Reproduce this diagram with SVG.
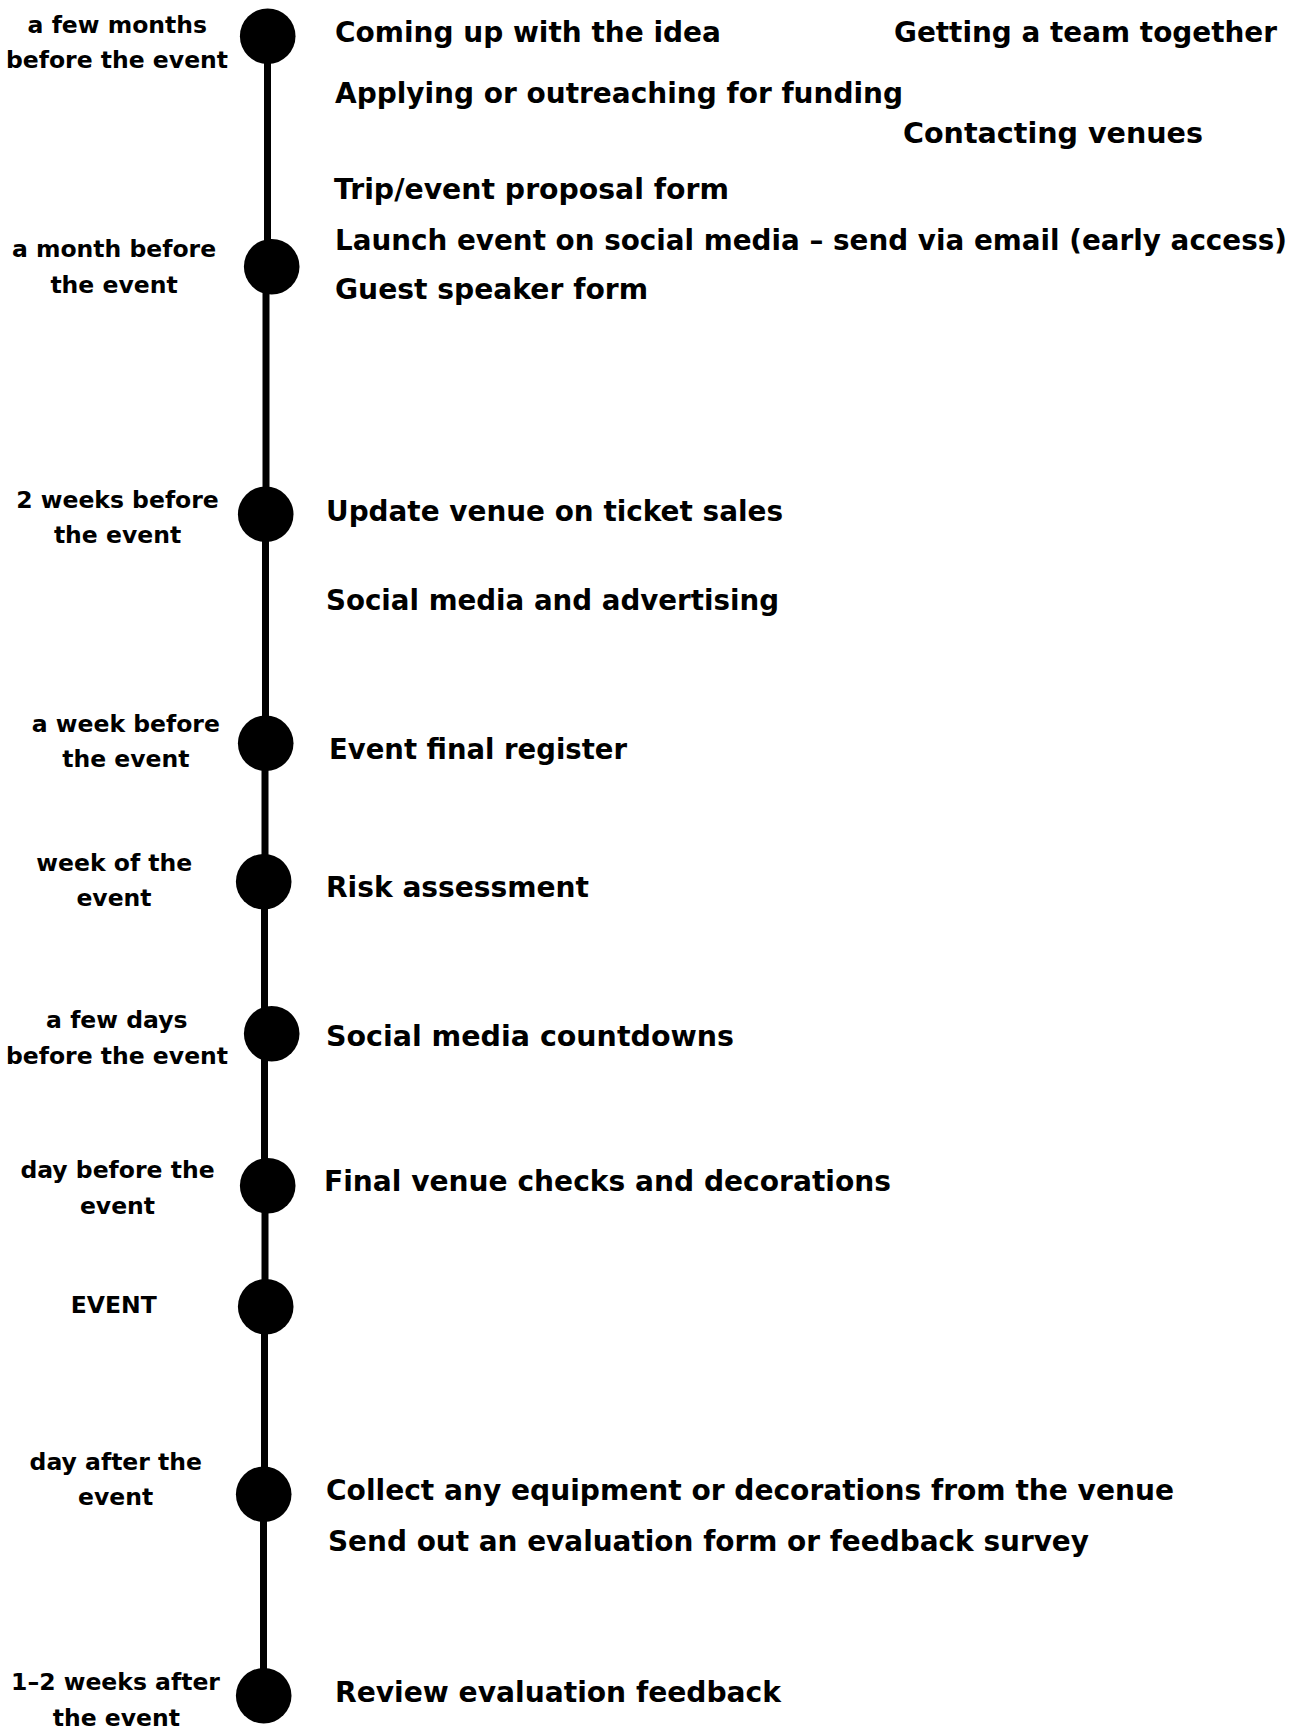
<svg xmlns="http://www.w3.org/2000/svg" width="1298" height="1726" viewBox="0 0 1298 1726">
<style>
.lbl{font-family:"DejaVu Sans","Liberation Sans",sans-serif;font-weight:bold;font-size:23.5px;fill:#000;text-anchor:middle}
.task{font-family:"DejaVu Sans","Liberation Sans",sans-serif;font-weight:bold;font-size:27.5px;fill:#000}
.dot{fill:#000}
.seg{stroke:#000;stroke-width:7;fill:none}
</style>
<rect width="1298" height="1726" fill="#fff"/>
<g id="connectors">
<line class="seg" x1="267.5" y1="36" x2="267.5" y2="267"/>
<line class="seg" x1="266" y1="267" x2="266" y2="514"/>
<line class="seg" x1="265.5" y1="514" x2="265.5" y2="743"/>
<line class="seg" x1="265" y1="743" x2="265" y2="882"/>
<line class="seg" x1="264.5" y1="882" x2="264.5" y2="1034"/>
<line class="seg" x1="264.5" y1="1034" x2="264.5" y2="1186"/>
<line class="seg" x1="265" y1="1186" x2="265" y2="1307"/>
<line class="seg" x1="264.5" y1="1307" x2="264.5" y2="1494"/>
<line class="seg" x1="263.5" y1="1494" x2="263.5" y2="1696"/>
</g>
<g id="m1">
<circle class="dot" cx="267.7" cy="36.2" r="27.8"/>
<text class="lbl" x="117.3" y="33.3">a few months</text>
<text class="lbl" x="117" y="68.3">before the event</text>
<text class="task" x="335" y="41.5" textLength="386" lengthAdjust="spacingAndGlyphs">Coming up with the idea</text>
<text class="task" x="894" y="41.5" textLength="383" lengthAdjust="spacingAndGlyphs">Getting a team together</text>
<text class="task" x="335" y="103" textLength="568" lengthAdjust="spacingAndGlyphs">Applying or outreaching for funding</text>
<text class="task" x="903" y="142.5" textLength="300" lengthAdjust="spacingAndGlyphs">Contacting venues</text>
</g>
<g id="m2">
<circle class="dot" cx="271.7" cy="266.7" r="27.8"/>
<text class="lbl" x="114" y="256.7">a month before</text>
<text class="lbl" x="114" y="292.7">the event</text>
<text class="task" x="334" y="198.5" textLength="395" lengthAdjust="spacingAndGlyphs">Trip/event proposal form</text>
<text class="task" x="335" y="249.5" textLength="952" lengthAdjust="spacingAndGlyphs">Launch event on social media – send via email (early access)</text>
<text class="task" x="335" y="298.5" textLength="313" lengthAdjust="spacingAndGlyphs">Guest speaker form</text>
</g>
<g id="m3">
<circle class="dot" cx="265.7" cy="514.3" r="27.8"/>
<text class="lbl" x="117.5" y="508">2 weeks before</text>
<text class="lbl" x="117.5" y="543">the event</text>
<text class="task" x="326" y="521" textLength="457" lengthAdjust="spacingAndGlyphs">Update venue on ticket sales</text>
<text class="task" x="326" y="609.5" textLength="453" lengthAdjust="spacingAndGlyphs">Social media and advertising</text>
</g>
<g id="m4">
<circle class="dot" cx="265.7" cy="743.3" r="27.8"/>
<text class="lbl" x="125.8" y="731.7">a week before</text>
<text class="lbl" x="125.8" y="766.7">the event</text>
<text class="task" x="329" y="758.5" textLength="298" lengthAdjust="spacingAndGlyphs">Event final register</text>
</g>
<g id="m5">
<circle class="dot" cx="263.7" cy="881.7" r="27.8"/>
<text class="lbl" x="114.3" y="870.7">week of the</text>
<text class="lbl" x="114" y="906">event</text>
<text class="task" x="326" y="897" textLength="263" lengthAdjust="spacingAndGlyphs">Risk assessment</text>
</g>
<g id="m6">
<circle class="dot" cx="271.7" cy="1033.7" r="27.8"/>
<text class="lbl" x="116.8" y="1028.3">a few days</text>
<text class="lbl" x="117" y="1064.3">before the event</text>
<text class="task" x="326" y="1046" textLength="408" lengthAdjust="spacingAndGlyphs">Social media countdowns</text>
</g>
<g id="m7">
<circle class="dot" cx="267.7" cy="1185.7" r="27.8"/>
<text class="lbl" x="117.5" y="1178.3">day before the</text>
<text class="lbl" x="117.5" y="1214.3">event</text>
<text class="task" x="324" y="1191" textLength="567" lengthAdjust="spacingAndGlyphs">Final venue checks and decorations</text>
</g>
<g id="m8">
<circle class="dot" cx="265.7" cy="1306.7" r="27.8"/>
<text class="lbl" x="113.7" y="1312.7">EVENT</text>
</g>
<g id="m9">
<circle class="dot" cx="263.7" cy="1494.3" r="27.8"/>
<text class="lbl" x="115.8" y="1470">day after the</text>
<text class="lbl" x="115.7" y="1505">event</text>
<text class="task" x="326" y="1499.5" textLength="848" lengthAdjust="spacingAndGlyphs">Collect any equipment or decorations from the venue</text>
<text class="task" x="328" y="1551" textLength="761" lengthAdjust="spacingAndGlyphs">Send out an evaluation form or feedback survey</text>
</g>
<g id="m10">
<circle class="dot" cx="263.7" cy="1695.7" r="27.8"/>
<text class="lbl" x="115.5" y="1690">1–2 weeks after</text>
<text class="lbl" x="116.3" y="1726">the event</text>
<text class="task" x="335" y="1701.5" textLength="446" lengthAdjust="spacingAndGlyphs">Review evaluation feedback</text>
</g>
</svg>
